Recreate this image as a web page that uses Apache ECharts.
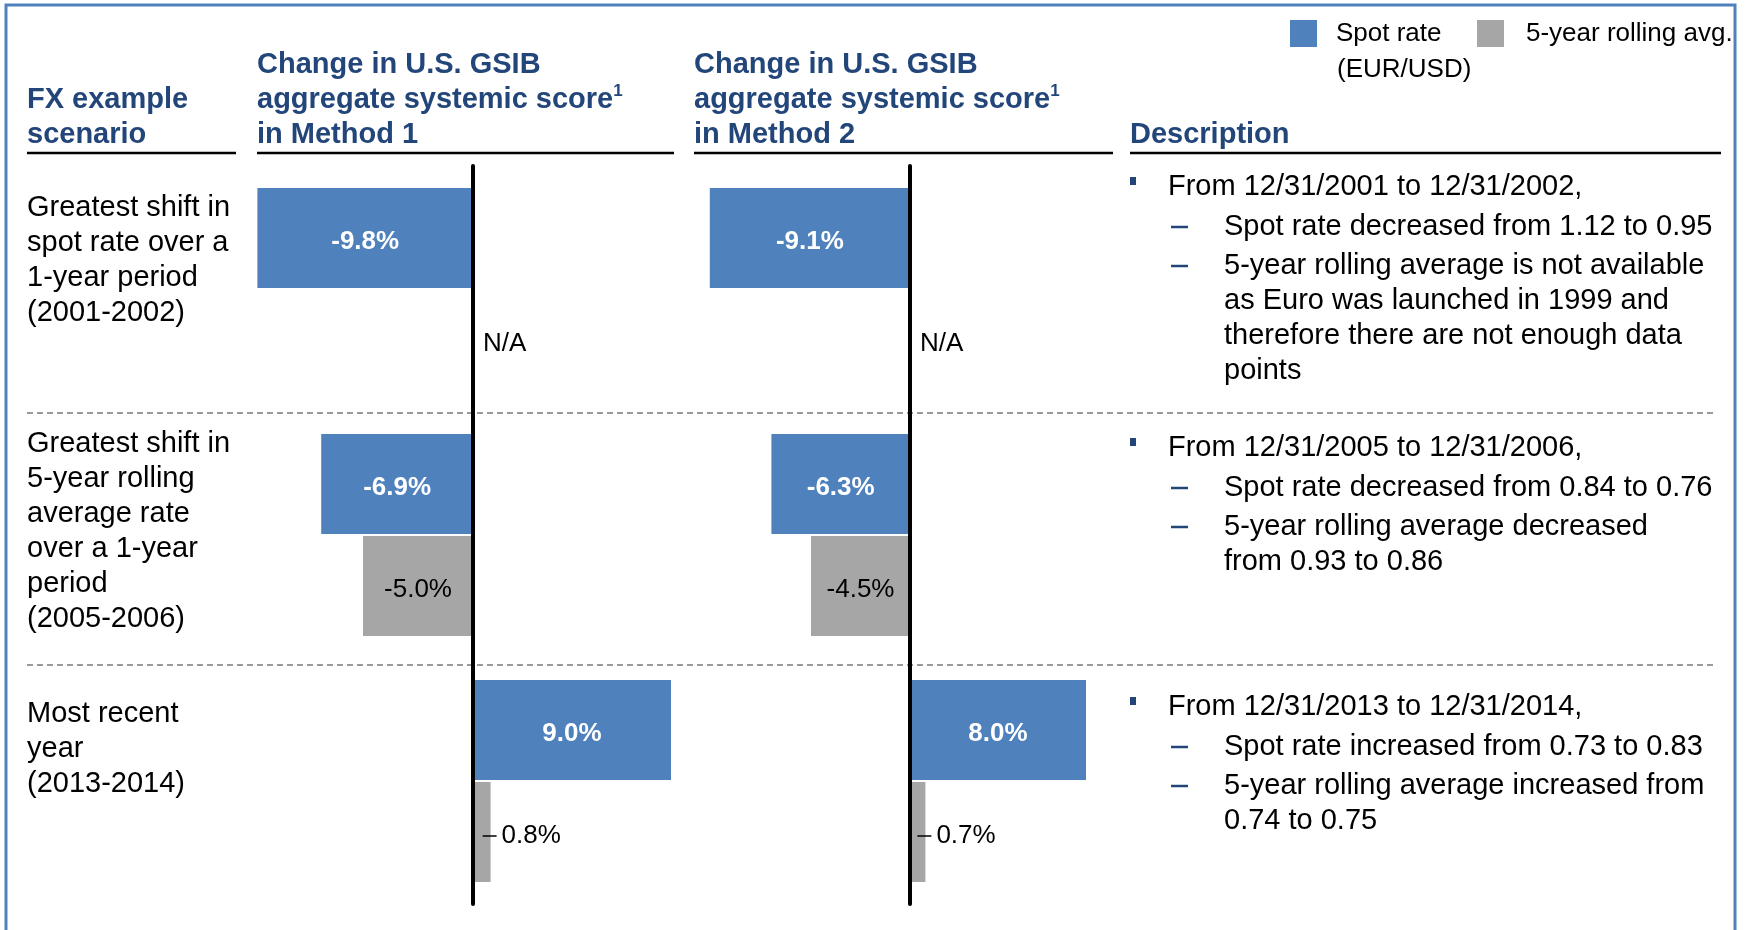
<!DOCTYPE html>
<html>
<head>
<meta charset="utf-8">
<script src="https://cdn.jsdelivr.net/npm/echarts@6/dist/echarts.min.js"></script>
<style>
html, body { margin: 0; padding: 0; background: #fff; }
#main { width: 1750px; height: 930px; }
</style>
</head>
<body>
<div id="main"></div>
<script>
// data
var scenarios = ['Spot rate shift 2001-2002', '5-year avg shift 2005-2006', 'Most recent year 2013-2014'];
var scenarioLines = [
  ['Greatest shift in', 'spot rate over a', '1-year period', '(2001-2002)'],
  ['Greatest shift in', '5-year rolling', 'average rate', 'over a 1-year', 'period', '(2005-2006)'],
  ['Most recent', 'year', '(2013-2014)']
];
var spotMethod1 = [-9.8, -6.9, 9.0];
var avgMethod1 = [null, -5.0, 0.8];
var spotMethod2 = [-9.1, -6.3, 8.0];
var avgMethod2 = [null, -4.5, 0.7];
var seriesNames = ['Spot rate (EUR/USD)', '5-year rolling avg.'];
var headerTexts = [
  ['FX example', 'scenario'],
  ['Change in U.S. GSIB', 'aggregate systemic score^1', 'in Method 1'],
  ['Change in U.S. GSIB', 'aggregate systemic score^1', 'in Method 2'],
  ['Description']
];
var descriptions = [
  { head: 'From 12/31/2001 to 12/31/2002,', subs: [
    ['Spot rate decreased from 1.12 to 0.95'],
    ['5-year rolling average is not available', 'as Euro was launched in 1999 and', 'therefore there are not enough data', 'points']] },
  { head: 'From 12/31/2005 to 12/31/2006,', subs: [
    ['Spot rate decreased from 0.84 to 0.76'],
    ['5-year rolling average decreased', 'from 0.93 to 0.86']] },
  { head: 'From 12/31/2013 to 12/31/2014,', subs: [
    ['Spot rate increased from 0.73 to 0.83'],
    ['5-year rolling average increased from', '0.74 to 0.75']] }
];

// layout / style
var FONT = '"Liberation Sans", Arial, Helvetica, sans-serif';
var HEAD = '#23467A';
var BLUE = '#4F81BD';
var GREY = '#A6A6A6';
var headerX = [27, 257, 694, 1130];
var underline = [[27, 236], [257, 674], [694, 1113], [1130, 1721]];
var scenarioY = [208, 444, 714];
var descY = [187, 448, 707];
var separatorsY = [413, 665];

var chart = echarts.init(document.getElementById('main'));

function pct(v) { return v.toFixed(1) + '%'; }

function spotSeries(data, idx) {
  return {
    name: seriesNames[0], type: 'bar', xAxisIndex: idx, yAxisIndex: idx,
    data: data, barWidth: 100, barGap: '2%',
    itemStyle: { color: BLUE },
    label: { show: true, position: 'inside', offset: [0, 4], color: '#fff', fontWeight: 'bold',
      fontSize: 26, fontFamily: FONT, formatter: function (p) { return pct(p.value); } }
  };
}

function avgSeries(data, idx) {
  var items = data.map(function (v) {
    if (v == null) {
      return { value: 0, label: { position: 'right', distance: 10, formatter: 'N/A' } };
    }
    if (Math.abs(v) < 2) {
      return { value: v, label: { position: 'right', distance: -8,
        formatter: function (p) { return '{ln|}{t|' + pct(p.value) + '}'; } } };
    }
    return v;
  });
  return {
    name: seriesNames[1], type: 'bar', xAxisIndex: idx, yAxisIndex: idx,
    data: items, barWidth: 100, barGap: '2%',
    itemStyle: { color: GREY },
    label: { show: true, position: 'inside', offset: [0, 4], color: '#000', fontSize: 26, fontFamily: FONT,
      formatter: function (p) { return pct(p.value); },
      rich: {
        ln: { width: 14, height: 1.5, backgroundColor: '#000', verticalAlign: 'middle' },
        t: { fontSize: 26, fontFamily: FONT, color: '#000', padding: [0, 0, 0, 5] }
      } }
  };
}

function catAxis(idx) {
  return {
    type: 'category', gridIndex: idx, data: scenarios, inverse: true, z: 3,
    axisLine: { show: true, onZero: true, lineStyle: { color: '#000', width: 4, cap: 'round' } },
    axisTick: { show: false }, axisLabel: { show: false }, splitLine: { show: false }
  };
}

function valAxis(idx) {
  return { type: 'value', gridIndex: idx, min: -10, max: 10, show: false };
}

// text and decorations
var graphics = [];
graphics.push({ type: 'rect', silent: true, z: -10,
  shape: { x: 6, y: 5, width: 1729, height: 960 },
  style: { fill: 'none', stroke: BLUE, lineWidth: 3 } });

headerTexts.forEach(function (lines, i) {
  var text = lines.map(function (l) {
    var parts = l.split('^');
    return '{h|' + parts[0] + '}' + (parts[1] ? '{s|' + parts[1] + '}' : '');
  }).join('\n');
  graphics.push({ type: 'text', silent: true,
    style: { x: headerX[i], y: 132 + 20.5 - lines.length * 35, text: text, verticalAlign: 'top',
      rich: {
        h: { fontSize: 29, fontWeight: 'bold', fontFamily: FONT, fill: HEAD, lineHeight: 35 },
        s: { fontSize: 17, fontWeight: 'bold', fontFamily: FONT, fill: HEAD, lineHeight: 22, verticalAlign: 'top' }
      } } });
});

underline.forEach(function (u) {
  graphics.push({ type: 'line', silent: true, shape: { x1: u[0], y1: 153, x2: u[1], y2: 153 },
    style: { stroke: '#000', lineWidth: 2.5 } });
});

separatorsY.forEach(function (y) {
  graphics.push({ type: 'line', silent: true, z: -5, shape: { x1: 27, y1: y, x2: 1717, y2: y },
    style: { stroke: '#9A9A9A', lineWidth: 2, lineDash: [6, 4] } });
});

function bodyText(x, y, t, size) {
  graphics.push({ type: 'text', silent: true,
    style: { x: x, y: y, text: t, fontSize: size || 29, fontFamily: FONT, fill: '#000', verticalAlign: 'middle' } });
}

scenarioLines.forEach(function (lines, r) {
  lines.forEach(function (l, i) { bodyText(27, scenarioY[r] + i * 35, l); });
});

descriptions.forEach(function (d, r) {
  var y = descY[r];
  graphics.push({ type: 'rect', silent: true, shape: { x: 1130, y: y - 10, width: 6, height: 8 },
    style: { fill: HEAD } });
  bodyText(1168, y, d.head);
  y += 40;
  d.subs.forEach(function (sub) {
    graphics.push({ type: 'line', silent: true, shape: { x1: 1171, y1: y, x2: 1188, y2: y },
      style: { stroke: HEAD, lineWidth: 2.5 } });
    sub.forEach(function (l) { bodyText(1224, y, l); y += 35; });
    y += 4;
  });
});

// second line of the first legend entry
bodyText(1337, 70, '(EUR/USD)', 26);

var option = {
  animation: false,
  backgroundColor: '#fff',
  textStyle: { fontFamily: FONT },
  legend: [
    { data: [seriesNames[0]], left: 1290, top: 20, padding: 0, icon: 'rect',
      itemWidth: 27, itemHeight: 27, selectedMode: false,
      formatter: function () { return 'Spot rate'; },
      textStyle: { fontSize: 26, color: '#000', fontFamily: FONT, padding: [0, 0, 0, 14] } },
    { data: [seriesNames[1]], left: 1477, top: 20, padding: 0, icon: 'rect',
      itemWidth: 27, itemHeight: 27, selectedMode: false,
      textStyle: { fontSize: 26, color: '#000', fontFamily: FONT, padding: [0, 0, 0, 17] } }
  ],
  grid: [
    { left: 253, top: 166, width: 440, height: 738 },
    { left: 690, top: 166, width: 440, height: 738 }
  ],
  xAxis: [valAxis(0), valAxis(1)],
  yAxis: [catAxis(0), catAxis(1)],
  graphic: graphics,
  series: [
    spotSeries(spotMethod1, 0), avgSeries(avgMethod1, 0),
    spotSeries(spotMethod2, 1), avgSeries(avgMethod2, 1)
  ]
};

chart.setOption(option);
</script>
</body>
</html>
